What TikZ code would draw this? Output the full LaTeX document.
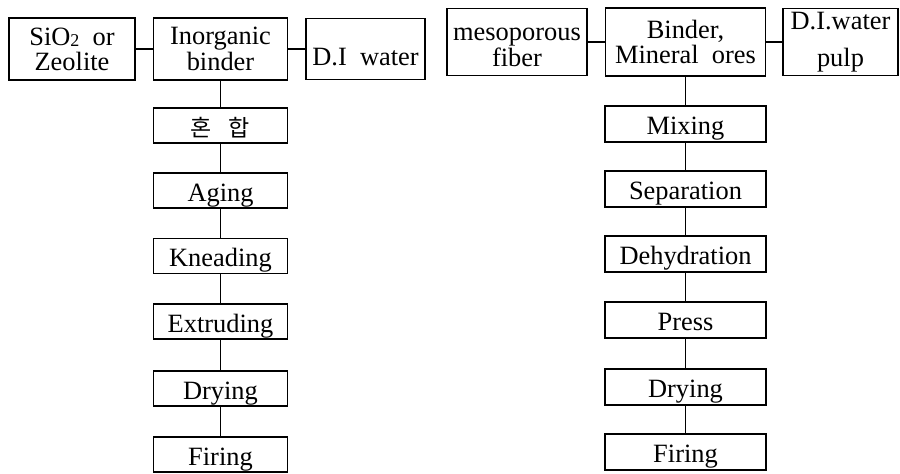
\documentclass[tikz,border=0pt]{standalone}
\usepackage{fontspec}
\setmainfont{Liberation Serif}
\newfontfamily\kofont{Noto Sans CJK KR}
\begin{document}
\begin{tikzpicture}[x=0.5pt,y=-0.5pt,
  box/.style={draw, line width=0.9pt, inner sep=0pt, align=center,
    font=\fontsize{13.2}{11}\selectfont},
  single/.style={text height=10.5pt, text depth=0pt},
  lcol/.style={box, single, minimum width=67pt, minimum height=17.5pt},
  rcol/.style={box, single, minimum width=80.5pt, minimum height=18pt},
  link/.style={line width=0.9pt}]
\useasboundingbox (0,0) rectangle (900,473);
% left top row
\node[box, minimum width=63pt, minimum height=31pt, font=\fontsize{13.2}{12.5}\selectfont] (sio) at (72,49)
  {SiO{\fontsize{9}{9}\selectfont\raisebox{-0.5pt}{2}}\ \ or\\Zeolite};
\node[box, minimum width=67pt, minimum height=31pt] (inorg) at (220.5,49) {Inorganic\\binder};
\node[box, minimum width=59.5pt, minimum height=30.5pt, text height=16pt, text depth=0pt] (diw) at (365.5,49) {D.I\ \ water};
% left column
\node[lcol] (l1) at (220.5,125.5) {\kofont\fontsize{11.5}{12}\selectfont 혼\hspace{8.5pt}합};
\node[lcol] (l2) at (220.5,190.5) {Aging};
\node[lcol] (l3) at (220.5,256) {Kneading};
\node[lcol] (l4) at (220.5,321.5) {Extruding};
\node[lcol] (l5) at (220.5,388.5) {Drying};
\node[lcol] (l6) at (220.5,454.5) {Firing};
% right top row
\node[box, minimum width=70pt, minimum height=33.5pt, font=\fontsize{13.2}{10}\selectfont] (meso) at (517,42) {\rule{0pt}{11.5pt}mesoporous\\fiber};
\node[box, minimum width=80pt, minimum height=34pt] (bind) at (685.5,42) {Binder,\\Mineral\ \ ores};
\node[box, minimum width=57.5pt, minimum height=33.5pt] (pulp) at (840.5,42) {D.I.water\\[7.5pt]pulp};
% right column
\node[rcol] (r1) at (685.5,124) {Mixing};
\node[rcol] (r2) at (685.5,189) {Separation};
\node[rcol] (r3) at (685.5,254) {Dehydration};
\node[rcol] (r4) at (685.5,320) {Press};
\node[rcol] (r5) at (685.5,387) {Drying};
\node[rcol] (r6) at (685.5,452) {Firing};
% connectors
\draw[link] (sio) -- (inorg);
\draw[link] (inorg) -- (diw);
\draw[link] (inorg) -- (l1) -- (l2) -- (l3) -- (l4) -- (l5) -- (l6);
\draw[link] (meso) -- (bind);
\draw[link] (bind) -- (pulp);
\draw[link] (bind) -- (r1) -- (r2) -- (r3) -- (r4) -- (r5) -- (r6);
\end{tikzpicture}
\end{document}
